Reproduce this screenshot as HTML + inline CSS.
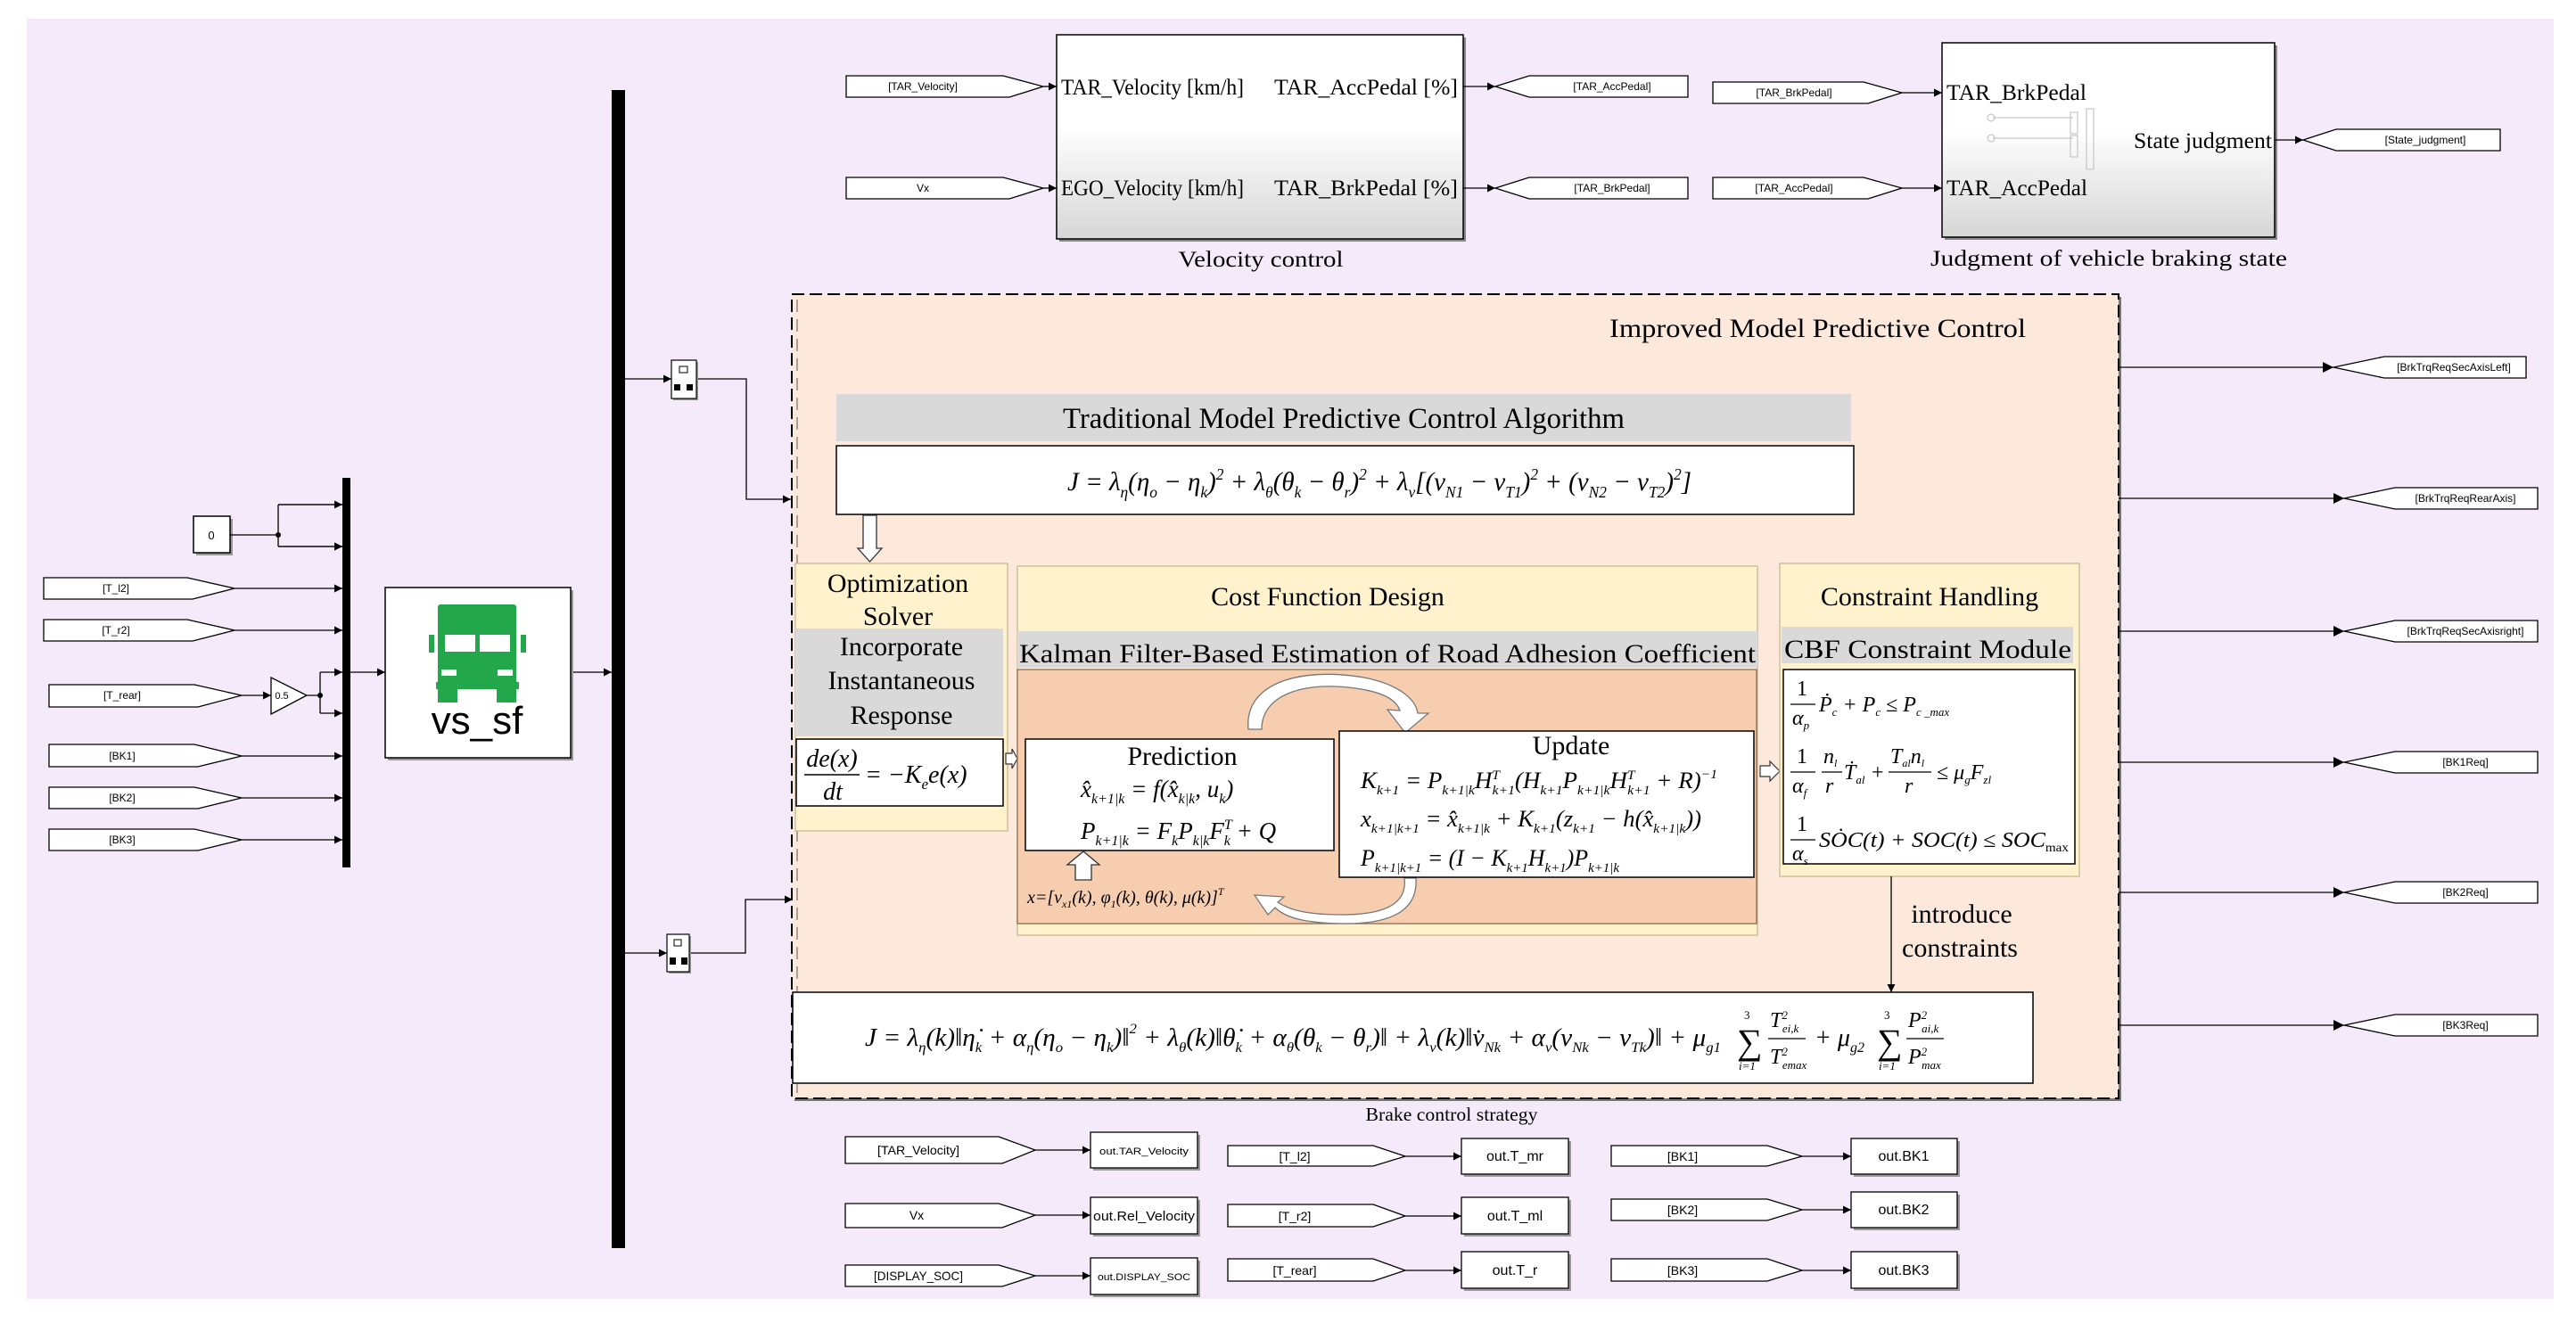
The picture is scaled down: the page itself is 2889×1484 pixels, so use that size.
<!DOCTYPE html>
<html><head><meta charset="utf-8">
<style>
html,body{margin:0;padding:0;background:#fff;}
svg{display:block;}
.s{font-family:"Liberation Serif",serif;}
.a{font-family:"Liberation Sans",sans-serif;}
.i{font-style:italic;}
</style></head>
<body>
<svg width="2889" height="1484" viewBox="0 0 2889 1484" xmlns="http://www.w3.org/2000/svg">
<defs>
<marker id="ar" viewBox="0 0 10 10" refX="10" refY="5" markerWidth="9" markerHeight="9" markerUnits="userSpaceOnUse" orient="auto"><path d="M0,0 L10,5 L0,10 z" fill="#000"/></marker>
<marker id="ar2" viewBox="0 0 10 10" refX="10" refY="5" markerWidth="12" markerHeight="12" markerUnits="userSpaceOnUse" orient="auto"><path d="M0,0 L10,5 L0,10 z" fill="#000"/></marker>
<linearGradient id="gb" x1="0" y1="0" x2="0" y2="1"><stop offset="0" stop-color="#ffffff"/><stop offset="0.45" stop-color="#ffffff"/><stop offset="1" stop-color="#d6d6d6"/></linearGradient>
</defs>
<rect x="0" y="0" width="2889" height="1484" fill="#fff"/>
<rect x="30" y="21" width="2834" height="1436" fill="#f5eaf9"/>

<!-- buses -->
<rect x="686" y="101" width="15" height="1299" fill="#000"/>
<rect x="384" y="536" width="9" height="437" fill="#000"/>

<!-- left side -->
<rect x="220" y="582" width="41" height="41" fill="#999"/>
<rect x="217" y="579" width="41" height="41" fill="#fff" stroke="#000" stroke-width="1.5"/>
<text x="237" y="605" class="a" font-size="13" text-anchor="middle">0</text>
<g fill="none" stroke="#000" stroke-width="1.3">
<path d="M258,600 H312 M312,566 V613 M312,566 H384 M312,613 H384" marker-end="url(#ar)"/>
<path d="M312,566 H384" marker-end="url(#ar)"/><path d="M312,613 H384" marker-end="url(#ar)"/>
<path d="M263,660 H384" marker-end="url(#ar)"/>
<path d="M263,707 H384" marker-end="url(#ar)"/>
<path d="M271,780 H304" marker-end="url(#ar)"/>
<path d="M344,780 H359 M359,754 V800"/>
<path d="M359,754 H384" marker-end="url(#ar)"/><path d="M359,800 H384" marker-end="url(#ar)"/>
<path d="M271,848 H384" marker-end="url(#ar)"/>
<path d="M271,895 H384" marker-end="url(#ar)"/>
<path d="M271,942 H384" marker-end="url(#ar)"/>
<path d="M393,754 H432" marker-end="url(#ar)"/>
<path d="M640,754 H686" marker-end="url(#ar)"/>
<path d="M701,425 H753" marker-end="url(#ar)"/>
<path d="M781,425 H837 V560 H887" marker-end="url(#ar)"/>
<path d="M701,1069 H748" marker-end="url(#ar)"/>
<path d="M773,1069 H836 V1009 H889" marker-end="url(#ar)"/>
</g>
<circle cx="312" cy="600" r="3" fill="#000"/>
<circle cx="359" cy="780" r="3" fill="#000"/>
<!-- left tags -->
<g fill="#fff" stroke="#000" stroke-width="1.3">
<path d="M49,648 H210 L263,660 L216,672 H49 Z"/>
<path d="M49,695 H210 L263,707 L216,719 H49 Z"/>
<path d="M55,768 H218 L271,780 L222,793 H55 Z"/>
<path d="M55,835 H218 L271,848 L222,860 H55 Z"/>
<path d="M55,883 H218 L271,895 L222,907 H55 Z"/>
<path d="M55,930 H218 L271,942 L222,954 H55 Z"/>
<path d="M304,760 L344,780 L304,801 Z"/>
</g>
<g class="a" font-size="12" text-anchor="middle">
<text x="130" y="664">[T_l2]</text><text x="130" y="711">[T_r2]</text>
<text x="137" y="784">[T_rear]</text><text x="137" y="852">[BK1]</text>
<text x="137" y="899">[BK2]</text><text x="137" y="946">[BK3]</text>
<text x="316" y="784" font-size="11">0.5</text>
</g>
<!-- vs_sf -->
<rect x="435" y="662" width="208" height="191" fill="#999"/>
<rect x="432" y="659" width="208" height="191" fill="#fff" stroke="#000" stroke-width="1.5"/>
<g fill="#22a84b">
<rect x="491" y="678" width="88" height="95" rx="3"/>
<rect x="489" y="765" width="93" height="8"/>
<rect x="491" y="770" width="22" height="18"/>
<rect x="557" y="770" width="22" height="18"/>
<rect x="481" y="712" width="6" height="20"/>
<rect x="584" y="712" width="6" height="20"/>
</g>
<g fill="#fff"><rect x="499" y="712" width="34" height="19"/><rect x="538" y="712" width="34" height="19"/><rect x="495" y="751" width="17" height="7"/><rect x="558" y="751" width="17" height="7"/></g>
<text x="535" y="823" class="a" font-size="44" text-anchor="middle">vs_sf</text>
<!-- selectors -->
<g>
<rect x="755" y="406" width="28" height="43" fill="#999"/>
<rect x="753" y="404" width="28" height="43" fill="#fff" stroke="#000" stroke-width="1.2"/>
<rect x="762" y="411" width="9" height="7" fill="none" stroke="#000"/>
<rect x="756" y="431" width="7" height="7" fill="#000"/><rect x="770" y="431" width="7" height="7" fill="#000"/>
<rect x="750" y="1050" width="25" height="42" fill="#999"/>
<rect x="748" y="1048" width="25" height="42" fill="#fff" stroke="#000" stroke-width="1.2"/>
<rect x="756" y="1054" width="8" height="7" fill="none" stroke="#000"/>
<rect x="751" y="1074" width="7" height="8" fill="#000"/><rect x="764" y="1074" width="7" height="8" fill="#000"/>
</g>

<!-- top section -->
<rect x="1188" y="42" width="456" height="229" fill="#888"/>
<rect x="1185" y="39" width="456" height="229" fill="url(#gb)" stroke="#000" stroke-width="1.5"/>
<rect x="2181" y="51" width="373" height="218" fill="#888"/>
<rect x="2178" y="48" width="373" height="218" fill="url(#gb)" stroke="#000" stroke-width="1.5"/>
<g stroke="#bbb" fill="none" stroke-width="1"><path d="M2235,132 H2325 M2235,155 H2325"/><rect x="2322" y="126" width="8" height="24"/><rect x="2322" y="152" width="8" height="24"/><rect x="2340" y="122" width="8" height="68"/><circle cx="2233" cy="132" r="4"/><circle cx="2233" cy="155" r="4"/></g>
<g class="s" font-size="25">
<text x="1190" y="106" textLength="205" lengthAdjust="spacingAndGlyphs">TAR_Velocity [km/h]</text>
<text x="1429" y="106" textLength="206" lengthAdjust="spacingAndGlyphs">TAR_AccPedal [%]</text>
<text x="1190" y="219" textLength="205" lengthAdjust="spacingAndGlyphs">EGO_Velocity [km/h]</text>
<text x="1429" y="219" textLength="206" lengthAdjust="spacingAndGlyphs">TAR_BrkPedal [%]</text>
<text x="2183" y="112" textLength="157" lengthAdjust="spacingAndGlyphs">TAR_BrkPedal</text>
<text x="2183" y="219" textLength="158" lengthAdjust="spacingAndGlyphs">TAR_AccPedal</text>
<text x="2393" y="166" textLength="155" lengthAdjust="spacingAndGlyphs">State judgment</text>
<text x="1414" y="299" text-anchor="middle" textLength="185" lengthAdjust="spacingAndGlyphs">Velocity control</text>
<text x="2365" y="298" text-anchor="middle" textLength="400" lengthAdjust="spacingAndGlyphs">Judgment of vehicle braking state</text>
</g>
<g fill="#fff" stroke="#000" stroke-width="1.3">
<path d="M949,85 H1125 L1170,97 L1132,109 H949 Z"/>
<path d="M949,199 H1125 L1170,211 L1132,223 H949 Z"/>
<path d="M1677,97 L1715,85 H1893 V109 H1715 Z"/>
<path d="M1677,211 L1715,199 H1893 V223 H1715 Z"/>
<path d="M1921,92 H2090 L2133,104 L2095,116 H1921 Z"/>
<path d="M1921,199 H2090 L2133,211 L2095,223 H1921 Z"/>
<path d="M2583,157 L2620,145 H2804 V169 H2620 Z"/>
</g>
<g fill="none" stroke="#000" stroke-width="1.3">
<path d="M1170,97 H1185" marker-end="url(#ar)"/>
<path d="M1170,211 H1185" marker-end="url(#ar)"/>
<path d="M1641,97 H1677" marker-end="url(#ar)"/>
<path d="M1641,211 H1677" marker-end="url(#ar)"/>
<path d="M2133,104 H2178" marker-end="url(#ar)"/>
<path d="M2133,211 H2178" marker-end="url(#ar)"/>
<path d="M2551,157 H2583" marker-end="url(#ar)"/>
</g>
<g class="a" font-size="12" text-anchor="middle">
<text x="1035" y="101">[TAR_Velocity]</text><text x="1035" y="215">Vx</text>
<text x="1808" y="101">[TAR_AccPedal]</text><text x="1808" y="215">[TAR_BrkPedal]</text>
<text x="2012" y="108">[TAR_BrkPedal]</text><text x="2012" y="215">[TAR_AccPedal]</text>
<text x="2720" y="161">[State_judgment]</text>
</g>

<!-- IMPC box -->
<rect x="891" y="333" width="1488" height="902" fill="#777"/>
<rect x="888" y="330" width="1488" height="902" fill="#fce9dc" stroke="#000" stroke-width="2" stroke-dasharray="14,6"/>
<line x1="894" y1="336" x2="894" y2="1226" stroke="#555" stroke-width="1" stroke-dasharray="14,8"/>
<text x="2272" y="378" class="s" font-size="30" text-anchor="end" textLength="467" lengthAdjust="spacingAndGlyphs">Improved Model Predictive Control</text>
<!-- traditional -->
<rect x="938" y="442" width="1138" height="53" fill="#d9d9d9"/>
<text x="1507" y="480" class="s" font-size="33" text-anchor="middle" textLength="630" lengthAdjust="spacingAndGlyphs">Traditional Model Predictive Control Algorithm</text>
<rect x="938" y="500" width="1141" height="77" fill="#fff" stroke="#000" stroke-width="1.5"/>
<text x="1197" y="550" class="s i" font-size="30" textLength="700" lengthAdjust="spacingAndGlyphs">J = λ<tspan font-size="18" dy="8">η</tspan><tspan dy="-8">(η</tspan><tspan font-size="18" dy="8">o</tspan><tspan dy="-8"> − η</tspan><tspan font-size="18" dy="8">k</tspan><tspan dy="-8">)</tspan><tspan font-size="18" dy="-12">2</tspan><tspan dy="12"> + λ</tspan><tspan font-size="18" dy="8">θ</tspan><tspan dy="-8">(θ</tspan><tspan font-size="18" dy="8">k</tspan><tspan dy="-8"> − θ</tspan><tspan font-size="18" dy="8">r</tspan><tspan dy="-8">)</tspan><tspan font-size="18" dy="-12">2</tspan><tspan dy="12"> + λ</tspan><tspan font-size="18" dy="8">v</tspan><tspan dy="-8">[(v</tspan><tspan font-size="18" dy="8">N1</tspan><tspan dy="-8"> − v</tspan><tspan font-size="18" dy="8">T1</tspan><tspan dy="-8">)</tspan><tspan font-size="18" dy="-12">2</tspan><tspan dy="12"> + (v</tspan><tspan font-size="18" dy="8">N2</tspan><tspan dy="-8"> − v</tspan><tspan font-size="18" dy="8">T2</tspan><tspan dy="-8">)</tspan><tspan font-size="18" dy="-12">2</tspan><tspan dy="12">]</tspan></text>
<path d="M968,578 H983 V615 H989 L975.5,630 L962,615 H968 Z" fill="#fff" stroke="#333" stroke-width="1.3"/>

<!-- optimization solver -->
<rect x="892" y="632" width="238" height="300" fill="#fff2cc" stroke="#c9b98f" stroke-width="1.3"/>
<g class="s" font-size="30" text-anchor="middle">
<text x="1007" y="664">Optimization</text><text x="1007" y="701">Solver</text>
</g>
<rect x="892" y="705" width="233" height="121" fill="#d9d9d9"/>
<g class="s" font-size="30" text-anchor="middle">
<text x="1011" y="735">Incorporate</text><text x="1011" y="773">Instantaneous</text><text x="1011" y="812">Response</text>
</g>
<rect x="893" y="829" width="232" height="75" fill="#fff" stroke="#000" stroke-width="1.5"/>
<g class="s i" font-size="28">
<text x="933" y="860" text-anchor="middle">de(x)</text>
<line x1="902" y1="869" x2="964" y2="869" stroke="#000" stroke-width="1.5"/>
<text x="934" y="897" text-anchor="middle">dt</text>
<text x="970" y="878">= −K<tspan font-size="17" dy="7">e</tspan><tspan dy="-7">e(x)</tspan></text>
</g>
<path d="M1128,845 H1135 V840 L1141,851 L1135,862 V857 H1128 Z" fill="#fff" stroke="#333" stroke-width="1.2"/>

<!-- cost function design -->
<rect x="1141" y="635" width="830" height="414" fill="#fff2cc" stroke="#c9b98f" stroke-width="1.3"/>
<text x="1489" y="679" class="s" font-size="30" text-anchor="middle">Cost Function Design</text>
<rect x="1141" y="708" width="830" height="41" fill="#d9d9d9"/>
<text x="1556" y="743" class="s" font-size="30" text-anchor="middle" textLength="826" lengthAdjust="spacingAndGlyphs">Kalman Filter-Based Estimation of Road Adhesion Coefficient</text>
<rect x="1141" y="751" width="829" height="285" fill="#f7cdb0" stroke="#8a6a55" stroke-width="1.3"/>
<!-- curved arrows -->
<path d="M1400,818 C1395,765 1460,748 1530,760 C1570,768 1588,785 1590,800 L1602,800 L1576,822 L1556,796 L1570,797 C1566,785 1550,776 1520,772 C1460,764 1415,780 1415,818 Z" fill="#fff" stroke="#777" stroke-width="1.3"/>
<path d="M1588,985 C1590,1015 1570,1036 1510,1036 C1460,1036 1440,1028 1430,1018 L1422,1026 L1407,1004 L1440,1006 L1433,1012 C1448,1022 1470,1026 1505,1026 C1560,1026 1578,1010 1575,985 Z" fill="#fff" stroke="#777" stroke-width="1.3"/>
<!-- prediction -->
<rect x="1150" y="829" width="346" height="125" fill="#fff" stroke="#000" stroke-width="1.5"/>
<text x="1326" y="858" class="s" font-size="30" text-anchor="middle">Prediction</text>
<g class="s i" font-size="27">
<text x="1212" y="894">x̂<tspan font-size="16" dy="7">k+1|k</tspan><tspan dy="-7"> = f(x̂</tspan><tspan font-size="16" dy="7">k|k</tspan><tspan dy="-7">, u</tspan><tspan font-size="16" dy="7">k</tspan><tspan dy="-7">)</tspan></text>
<text x="1212" y="941">P<tspan font-size="16" dy="7">k+1|k</tspan><tspan dy="-7"> = F</tspan><tspan font-size="16" dy="7">k</tspan><tspan dy="-7">P</tspan><tspan font-size="16" dy="7">k|k</tspan><tspan dy="-7">F</tspan><tspan font-size="16" dy="-11">T</tspan><tspan font-size="16" dx="-9" dy="18">k</tspan><tspan dy="-7"> + Q</tspan></text>
</g>
<path d="M1206,987 V970 H1197 L1215,955 L1233,970 H1224 V987 Z" fill="#fff" stroke="#333" stroke-width="1.3"/>
<text x="1152" y="1013" class="s i" font-size="20">x=[v<tspan font-size="12" dy="5">x1</tspan><tspan dy="-5">(k), φ</tspan><tspan font-size="12" dy="5">1</tspan><tspan dy="-5">(k), θ(k), μ(k)]</tspan><tspan font-size="12" dy="-9">T</tspan></text>
<!-- update -->
<rect x="1502" y="820" width="465" height="164" fill="#fff" stroke="#000" stroke-width="1.5"/>
<text x="1762" y="846" class="s" font-size="30" text-anchor="middle">Update</text>
<g class="s i" font-size="26">
<text x="1526" y="884" textLength="400" lengthAdjust="spacingAndGlyphs">K<tspan font-size="15" dy="7">k+1</tspan><tspan dy="-7"> = P</tspan><tspan font-size="15" dy="7">k+1|k</tspan><tspan dy="-7">H</tspan><tspan font-size="15" dy="-10">T</tspan><tspan font-size="15" dx="-8" dy="17">k+1</tspan><tspan dy="-7">(H</tspan><tspan font-size="15" dy="7">k+1</tspan><tspan dy="-7">P</tspan><tspan font-size="15" dy="7">k+1|k</tspan><tspan dy="-7">H</tspan><tspan font-size="15" dy="-10">T</tspan><tspan font-size="15" dx="-8" dy="17">k+1</tspan><tspan dy="-7"> + R)</tspan><tspan font-size="15" dy="-11">−1</tspan></text>
<text x="1526" y="927" textLength="382" lengthAdjust="spacingAndGlyphs">x<tspan font-size="15" dy="7">k+1|k+1</tspan><tspan dy="-7"> = x̂</tspan><tspan font-size="15" dy="7">k+1|k</tspan><tspan dy="-7"> + K</tspan><tspan font-size="15" dy="7">k+1</tspan><tspan dy="-7">(z</tspan><tspan font-size="15" dy="7">k+1</tspan><tspan dy="-7"> − h(x̂</tspan><tspan font-size="15" dy="7">k+1|k</tspan><tspan dy="-7">))</tspan></text>
<text x="1526" y="971" textLength="290" lengthAdjust="spacingAndGlyphs">P<tspan font-size="15" dy="7">k+1|k+1</tspan><tspan dy="-7"> = (I − K</tspan><tspan font-size="15" dy="7">k+1</tspan><tspan dy="-7">H</tspan><tspan font-size="15" dy="7">k+1</tspan><tspan dy="-7">)P</tspan><tspan font-size="15" dy="7">k+1|k</tspan></text>
</g>
<path d="M1974,859 H1985 V854 L1996,865 L1985,876 V871 H1974 Z" fill="#fff" stroke="#333" stroke-width="1.2"/>

<!-- constraint handling -->
<rect x="1996" y="632" width="336" height="351" fill="#fff2cc" stroke="#c9b98f" stroke-width="1.3"/>
<text x="2164" y="679" class="s" font-size="30" text-anchor="middle">Constraint Handling</text>
<rect x="1998" y="703" width="327" height="41" fill="#d9d9d9"/>
<text x="2162" y="738" class="s" font-size="30" text-anchor="middle" textLength="322" lengthAdjust="spacingAndGlyphs">CBF Constraint Module</text>
<rect x="2000" y="751" width="327" height="218" fill="#fff" stroke="#000" stroke-width="1.5"/>
<g class="s" font-size="24">
<text x="2015" y="780">1</text><line x1="2008" y1="790" x2="2036" y2="790" stroke="#000" stroke-width="1.3"/><text x="2010" y="813" class="i">α<tspan font-size="13" dy="5">p</tspan></text>
<text x="2040" y="798" class="i">Ṗ<tspan font-size="13" dy="5">c</tspan><tspan dy="-5"> + P</tspan><tspan font-size="13" dy="5">c</tspan><tspan dy="-5"> ≤ P</tspan><tspan font-size="13" dy="5">c _max</tspan></text>
<text x="2015" y="856">1</text><line x1="2008" y1="866" x2="2036" y2="866" stroke="#000" stroke-width="1.3"/><text x="2010" y="889" class="i">α<tspan font-size="13" dy="5">f</tspan></text>
<text x="2045" y="856" class="i">n<tspan font-size="12" dy="4">l</tspan></text><line x1="2043" y1="866" x2="2066" y2="866" stroke="#000" stroke-width="1.3"/><text x="2047" y="889" class="i">r</text>
<text x="2068" y="874" class="i">Ṫ<tspan font-size="13" dy="5">al</tspan><tspan dy="-5"> +</tspan></text>
<text x="2120" y="856" class="i">T<tspan font-size="12" dy="4">al</tspan><tspan dy="-4">n</tspan><tspan font-size="12" dy="4">l</tspan></text><line x1="2118" y1="866" x2="2166" y2="866" stroke="#000" stroke-width="1.3"/><text x="2136" y="889" class="i">r</text>
<text x="2172" y="874" class="i">≤ μ<tspan font-size="13" dy="5">g</tspan><tspan dy="-5">F</tspan><tspan font-size="13" dy="5">zl</tspan></text>
<text x="2015" y="932">1</text><line x1="2008" y1="942" x2="2036" y2="942" stroke="#000" stroke-width="1.3"/><text x="2010" y="965" class="i">α<tspan font-size="13" dy="5">s</tspan></text>
<text x="2040" y="950" class="i" textLength="280" lengthAdjust="spacingAndGlyphs">SȮC(t) + SOC(t) ≤ SOC<tspan font-size="14" font-style="normal" dy="5">max</tspan></text>
</g>
<path d="M2121,983 V1113" fill="none" stroke="#000" stroke-width="1.3" marker-end="url(#ar)"/>
<g class="s" font-size="30" text-anchor="middle">
<text x="2200" y="1035">introduce</text><text x="2198" y="1073">constraints</text>
</g>

<!-- J2 -->
<rect x="889" y="1113" width="1391" height="102" fill="#fff" stroke="#000" stroke-width="1.5"/>
<text x="970" y="1173" class="s i" font-size="28" textLength="960" lengthAdjust="spacingAndGlyphs">J = λ<tspan font-size="16" dy="7">η</tspan><tspan dy="-7">(k)‖η̇</tspan><tspan font-size="16" dy="7">k</tspan><tspan dy="-7"> + α</tspan><tspan font-size="16" dy="7">η</tspan><tspan dy="-7">(η</tspan><tspan font-size="16" dy="7">o</tspan><tspan dy="-7"> − η</tspan><tspan font-size="16" dy="7">k</tspan><tspan dy="-7">)‖</tspan><tspan font-size="16" dy="-14">2</tspan><tspan dy="14"> + λ</tspan><tspan font-size="16" dy="7">θ</tspan><tspan dy="-7">(k)‖θ̇</tspan><tspan font-size="16" dy="7">k</tspan><tspan dy="-7"> + α</tspan><tspan font-size="16" dy="7">θ</tspan><tspan dy="-7">(θ</tspan><tspan font-size="16" dy="7">k</tspan><tspan dy="-7"> − θ</tspan><tspan font-size="16" dy="7">r</tspan><tspan dy="-7">)‖ + λ</tspan><tspan font-size="16" dy="7">v</tspan><tspan dy="-7">(k)‖v̇</tspan><tspan font-size="16" dy="7">Nk</tspan><tspan dy="-7"> + α</tspan><tspan font-size="16" dy="7">v</tspan><tspan dy="-7">(v</tspan><tspan font-size="16" dy="7">Nk</tspan><tspan dy="-7"> − v</tspan><tspan font-size="16" dy="7">Tk</tspan><tspan dy="-7">)‖ + μ</tspan><tspan font-size="16" dy="7">g1</tspan></text>
<g class="s">
<text x="1948" y="1182" font-size="40">∑</text>
<text x="1956" y="1143" font-size="13">3</text><text x="1950" y="1200" font-size="13" class="i">i=1</text>
<text x="1985" y="1152" font-size="24" class="i">T<tspan font-size="13" dy="-9">2</tspan><tspan font-size="13" dx="-6" dy="15">ei,k</tspan></text>
<line x1="1983" y1="1165" x2="2025" y2="1165" stroke="#000" stroke-width="1.3"/>
<text x="1985" y="1193" font-size="24" class="i">T<tspan font-size="13" dy="-9">2</tspan><tspan font-size="13" dx="-6" dy="15">emax</tspan></text>
<text x="2035" y="1173" font-size="28" class="i">+ μ<tspan font-size="16" dy="7">g2</tspan></text>
<text x="2105" y="1182" font-size="40">∑</text>
<text x="2113" y="1143" font-size="13">3</text><text x="2107" y="1200" font-size="13" class="i">i=1</text>
<text x="2140" y="1152" font-size="24" class="i">P<tspan font-size="13" dy="-9">2</tspan><tspan font-size="13" dx="-6" dy="15">ai,k</tspan></text>
<line x1="2138" y1="1165" x2="2180" y2="1165" stroke="#000" stroke-width="1.3"/>
<text x="2140" y="1193" font-size="24" class="i">P<tspan font-size="13" dy="-9">2</tspan><tspan font-size="13" dx="-6" dy="15">max</tspan></text>
</g>
<text x="1628" y="1257" class="s" font-size="21" text-anchor="middle" textLength="193" lengthAdjust="spacingAndGlyphs">Brake  control strategy</text>

<!-- right outputs -->
<g fill="none" stroke="#000" stroke-width="1.3">
<path d="M2376,412 H2617" marker-end="url(#ar2)"/>
<path d="M2376,559 H2629" marker-end="url(#ar2)"/>
<path d="M2376,708 H2629" marker-end="url(#ar2)"/>
<path d="M2376,855 H2629" marker-end="url(#ar2)"/>
<path d="M2376,1001 H2629" marker-end="url(#ar2)"/>
<path d="M2376,1150 H2629" marker-end="url(#ar2)"/>
</g>
<g fill="#fff" stroke="#000" stroke-width="1.3">
<path d="M2617,412 L2674,400 H2833 V424 H2674 Z"/>
<path d="M2629,559 L2686,547 H2846 V571 H2686 Z"/>
<path d="M2629,708 L2686,696 H2846 V720 H2686 Z"/>
<path d="M2629,855 L2686,843 H2846 V867 H2686 Z"/>
<path d="M2629,1001 L2686,989 H2846 V1013 H2686 Z"/>
<path d="M2629,1150 L2686,1138 H2846 V1162 H2686 Z"/>
</g>
<g class="a" font-size="12" text-anchor="middle">
<text x="2752" y="416">[BrkTrqReqSecAxisLeft]</text>
<text x="2765" y="563">[BrkTrqReqRearAxis]</text>
<text x="2765" y="712">[BrkTrqReqSecAxisright]</text>
<text x="2765" y="859">[BK1Req]</text>
<text x="2765" y="1005">[BK2Req]</text>
<text x="2765" y="1154">[BK3Req]</text>
</g>

<!-- bottom blocks -->
<g fill="#999">
<rect x="1226" y="1273" width="120" height="40"/><rect x="1642" y="1280" width="120" height="40"/><rect x="2079" y="1280" width="119" height="40"/>
<rect x="1226" y="1346" width="120" height="41"/><rect x="1642" y="1346" width="120" height="41"/><rect x="2079" y="1340" width="119" height="40"/>
<rect x="1226" y="1414" width="120" height="41"/><rect x="1642" y="1407" width="120" height="41"/><rect x="2079" y="1407" width="119" height="41"/>
</g>
<g fill="#fff" stroke="#000" stroke-width="1.3">
<rect x="1223" y="1270" width="120" height="40"/><rect x="1639" y="1277" width="120" height="40"/><rect x="2076" y="1277" width="119" height="40"/>
<rect x="1223" y="1343" width="120" height="41"/><rect x="1639" y="1343" width="120" height="41"/><rect x="2076" y="1337" width="119" height="40"/>
<rect x="1223" y="1411" width="120" height="41"/><rect x="1639" y="1404" width="120" height="41"/><rect x="2076" y="1404" width="119" height="41"/>
<path d="M948,1275 H1120 L1161,1290 L1124,1305 H948 Z"/>
<path d="M1377,1285 H1540 L1576,1297 L1540,1308 H1377 Z"/>
<path d="M1807,1285 H1982 L2021,1297 L1982,1308 H1807 Z"/>
<path d="M948,1350 H1120 L1161,1363 L1124,1377 H948 Z"/>
<path d="M1377,1351 H1540 L1576,1364 L1540,1376 H1377 Z"/>
<path d="M1807,1345 H1982 L2021,1357 L1982,1369 H1807 Z"/>
<path d="M948,1419 H1120 L1161,1431 L1124,1443 H948 Z"/>
<path d="M1377,1412 H1540 L1576,1425 L1540,1437 H1377 Z"/>
<path d="M1807,1412 H1982 L2021,1425 L1982,1437 H1807 Z"/>
</g>
<g fill="none" stroke="#000" stroke-width="1.3">
<path d="M1161,1290 H1223" marker-end="url(#ar)"/>
<path d="M1576,1297 H1639" marker-end="url(#ar)"/>
<path d="M2021,1297 H2076" marker-end="url(#ar)"/>
<path d="M1161,1363 H1223" marker-end="url(#ar)"/>
<path d="M1576,1364 H1639" marker-end="url(#ar)"/>
<path d="M2021,1357 H2076" marker-end="url(#ar)"/>
<path d="M1161,1431 H1223" marker-end="url(#ar)"/>
<path d="M1576,1425 H1639" marker-end="url(#ar)"/>
<path d="M2021,1425 H2076" marker-end="url(#ar)"/>
</g>
<g class="a" font-size="14" text-anchor="middle">
<text x="1030" y="1295" textLength="92" lengthAdjust="spacingAndGlyphs">[TAR_Velocity]</text>
<text x="1452" y="1302">[T_l2]</text>
<text x="1887" y="1302">[BK1]</text>
<text x="1028" y="1368">Vx</text>
<text x="1452" y="1369">[T_r2]</text>
<text x="1887" y="1362">[BK2]</text>
<text x="1030" y="1436" textLength="100" lengthAdjust="spacingAndGlyphs">[DISPLAY_SOC]</text>
<text x="1452" y="1430">[T_rear]</text>
<text x="1887" y="1430">[BK3]</text>
<text x="1283" y="1295" font-size="11" textLength="100" lengthAdjust="spacingAndGlyphs">out.TAR_Velocity</text>
<text x="1283" y="1369" font-size="15" textLength="114" lengthAdjust="spacingAndGlyphs">out.Rel_Velocity</text>
<text x="1283" y="1436" font-size="11" textLength="104" lengthAdjust="spacingAndGlyphs">out.DISPLAY_SOC</text>
<text x="1699" y="1302" font-size="16">out.T_mr</text>
<text x="1699" y="1369" font-size="16">out.T_ml</text>
<text x="1699" y="1430" font-size="16">out.T_r</text>
<text x="2135" y="1302" font-size="16">out.BK1</text>
<text x="2135" y="1362" font-size="16">out.BK2</text>
<text x="2135" y="1430" font-size="16">out.BK3</text>
</g>
</svg>
</body></html>
